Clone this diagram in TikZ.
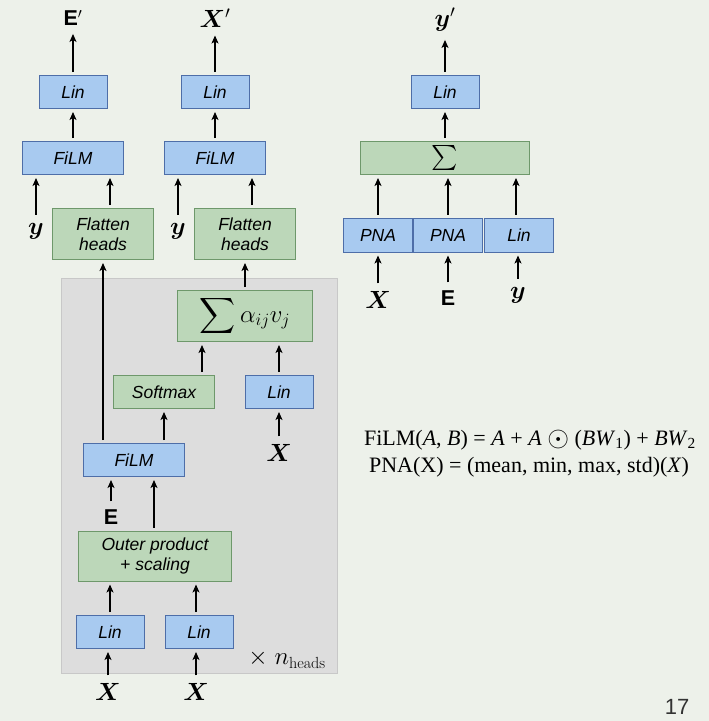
\documentclass[tikz,border=0pt]{standalone}
\usepackage{amsmath}
\usepackage{amssymb}
\usepackage{bm}
\usepackage{fontspec}
\usetikzlibrary{positioning,arrows.meta}
\newfontfamily\boxfont{Liberation Sans}
\newfontfamily\formfont{Liberation Serif}
\definecolor{bgcol}{RGB}{237,241,234}
\definecolor{bluefill}{RGB}{168,202,240}
\definecolor{blueline}{RGB}{78,110,168}
\definecolor{greenfill}{RGB}{188,215,185}
\definecolor{greenline}{RGB}{110,152,107}
\definecolor{headsfill}{RGB}{221,221,221}
\definecolor{headsline}{RGB}{200,200,200}
\newcommand{\Ebf}{{\boxfont\bfseries E}}
\tikzset{
  box/.style = {draw, line width=1pt, inner sep=0pt, align=center,
                font=\boxfont\itshape\fontsize{17.5}{20}\selectfont},
  bluebox/.style = {box, fill=bluefill, draw=blueline, minimum height=33pt},
  greenbox/.style = {box, fill=greenfill, draw=greenline, minimum height=33pt},
  lab/.style = {inner sep=5pt, font=\fontsize{23}{25}\selectfont},
  elab/.style = {lab, font=\fontsize{21.5}{24}\selectfont},
  arr/.style = {-{Stealth[length=8pt,width=7pt,inset=2pt]}, line width=1.2pt,
                shorten <=3pt, shorten >=3pt},
  formula/.style = {font=\formfont\fontsize{22}{24}\selectfont}
}
\begin{document}
\begin{tikzpicture}[x=1pt,y=-1pt]
  \fill[bgcol] (0,0) rectangle (709,721);
  \useasboundingbox (0,0) rectangle (709,721);

  % heads block
  \draw[fill=headsfill, draw=headsline, line width=1pt] (61,278) rectangle (337,673);

  % edge output
  \node[elab] (outE) at (73,18) {\Ebf$'$};
  \node[bluebox, minimum width=68pt] (linE) at (73,92) {Lin};
  \node[bluebox, minimum width=101pt] (filmE) at (73,158) {FiLM};
  \node[greenbox, minimum width=101pt, minimum height=51pt] (flatE) at (103,234) {Flatten\\heads};
  \node[lab] (yE) at (36,231) {$\bm y$};

  % node output
  \node[lab] (outX) at (215,18) {$\bm X'$};
  \node[bluebox, minimum width=68pt] (linX) at (215,92) {Lin};
  \node[bluebox, minimum width=101pt] (filmX) at (215,158) {FiLM};
  \node[greenbox, minimum width=101pt, minimum height=51pt] (flatX) at (245,234) {Flatten\\heads};
  \node[lab] (yX) at (178,231) {$\bm y$};

  % attention head
  \node[greenbox, minimum width=135pt, minimum height=51pt] (attn) at (245,316)
    {\fontsize{25}{27}\selectfont$\displaystyle\sum\alpha_{ij}v_j$};
  \node[greenbox, minimum width=101pt] (soft) at (164,392) {Softmax};
  \node[bluebox, minimum width=68pt] (linV) at (279,392) {Lin};
  \node[lab] (xV) at (279,453) {$\bm X$};
  \node[bluebox, minimum width=101pt] (filmH) at (134,460) {FiLM};
  \node[elab] (eH) at (111,517) {\Ebf};
  \node[greenbox, minimum width=153pt, minimum height=50pt] (outer) at (155,556) {Outer product\\+ scaling};
  \node[bluebox, minimum width=68pt] (linQ) at (110,632) {Lin};
  \node[bluebox, minimum width=68pt] (linK) at (199,632) {Lin};
  \node[lab] (xQ) at (108,692) {$\bm X$};
  \node[lab] (xK) at (196,692) {$\bm X$};
  \node[lab] (nheads) at (287,659) {$\times\ n_{\text{heads}}$};

  % global output
  \node[lab] (outY) at (445,20) {$\bm y'$};
  \node[bluebox, minimum width=68pt] (linY) at (445,92) {Lin};
  \node[greenbox, minimum width=169pt] (pool) at (445,158) {\fontsize{25}{27}\selectfont$\sum$};
  \node[bluebox, minimum width=69pt, minimum height=34pt] (pnaX) at (378,235) {PNA};
  \node[bluebox, minimum width=69pt, minimum height=34pt] (pnaE) at (448,235) {PNA};
  \node[bluebox, minimum width=69pt, minimum height=34pt] (linG) at (519,235) {Lin};
  \node[lab] (xG) at (378,300) {$\bm X$};
  \node[elab] (eG) at (448,298) {\Ebf};
  \node[lab] (yG) at (518,295) {$\bm y$};

  % definitions
  \node[formula] (film) at (530,440) {FiLM(\textit{A}, \textit{B}) = \textit{A} + \textit{A} \raisebox{-1pt}{\scalebox{1.35}{$\odot$}} (\textit{BW}\textsubscript{1}) + \textit{BW}\textsubscript{2}};
  \node[formula] (pna) at (529,467) {PNA(X) = (mean, min, max, std)(\textit{X})};
  \node[font=\boxfont\fontsize{22}{24}\selectfont, text=black!80] (page) at (677,707) {17};

  % arrows, edge output
  \draw[arr] (linE) -- (outE);
  \draw[arr] (filmE) -- (linE);
  \draw[arr] (yE) -- (yE |- filmE.south);
  \draw[arr] ([xshift=7pt]flatE.north) -- ([xshift=7pt]flatE.north |- filmE.south);

  % arrows, node output
  \draw[arr] (linX) -- (linX |- outX.south);
  \draw[arr] (filmX) -- (linX);
  \draw[arr] (yX) -- (yX |- filmX.south);
  \draw[arr] ([xshift=7pt]flatX.north) -- ([xshift=7pt]flatX.north |- filmX.south);

  % arrows, attention head
  \draw[arr] (attn) -- (flatX);
  \draw[arr] ([xshift=38pt]soft.north) -- ([xshift=38pt]soft.north |- attn.south);
  \draw[arr] (linV) -- (linV |- attn.south);
  \draw[arr] (xV) -- (linV);
  \draw[arr] (filmH.north -| flatE) -- (flatE);
  \draw[arr] (filmH.north -| soft) -- (soft);
  \draw[arr] (eH) -- (eH |- filmH.south);
  \draw[arr] (outer.north -| 154,0) -- (filmH.south -| 154,0);
  \draw[arr] (linQ) -- (linQ |- outer.south);
  \draw[arr] ([xshift=-3pt]linK.north) -- ([xshift=-3pt]linK.north |- outer.south);
  \draw[arr] (xQ) -- (xQ |- linQ.south);
  \draw[arr] (xK) -- (xK |- linK.south);

  % arrows, global output
  \draw[arr] (linY) -- (outY);
  \draw[arr] (pool) -- (linY);
  \draw[arr] (pnaX) -- (pnaX |- pool.south);
  \draw[arr] (pnaE) -- (pnaE |- pool.south);
  \draw[arr] ([xshift=-3pt]linG.north) -- ([xshift=-3pt]linG.north |- pool.south);
  \draw[arr] (xG) -- (pnaX);
  \draw[arr] (eG) -- (pnaE);
  \draw[arr] (yG) -- (yG |- linG.south);
\end{tikzpicture}
\end{document}
